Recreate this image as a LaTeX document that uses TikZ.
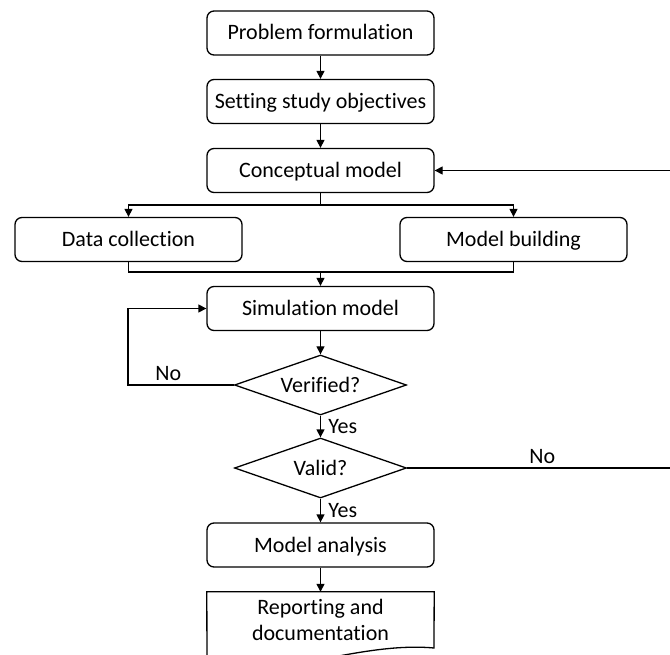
\documentclass[tikz,border=0pt]{standalone}
\usepackage{fontspec}
\setmainfont{Carlito}[Ligatures=CommonOff]
\usetikzlibrary{shapes.geometric, arrows.meta}

\begin{document}
\begin{tikzpicture}[x=1pt, y=-1pt,
    every node/.style={font=\fontsize{22}{26.5}\selectfont},
    stage/.style={draw, rounded corners=7pt, line width=1.3pt, minimum width=227pt, minimum height=44pt, inner sep=0pt, text height=16pt, text depth=2pt},
    check/.style={draw, diamond, aspect=2.87, line width=1.3pt, minimum width=172pt, minimum height=60pt, inner sep=0pt, text height=16pt, text depth=2pt},
    link/.style={line width=1.3pt},
    flow/.style={line width=1.3pt, -{Triangle[length=8pt,width=8pt]}}]
    \useasboundingbox (0,0) rectangle (670,655);
    \clip (0,0) rectangle (670,655);
    \fill[white] (0,0) rectangle (670,655);

    \node[stage] (pf) at (320.5,33) {Problem formulation};
    \node[stage] (so) at (320.5,101.5) {Setting study objectives};
    \node[stage] (cm) at (320.5,170.5) {Conceptual model};
    \node[stage] (dc) at (128.5,239.5) {Data collection};
    \node[stage] (mb) at (513.5,239.5) {Model building};
    \node[stage] (sm) at (320.5,308.5) {Simulation model};
    \node[check] (ver) at (320.5,385) {Verified?};
    \node[check] (val) at (320.5,468) {Valid?};
    \node[stage] (ma) at (320.5,545) {Model analysis};
    \node[align=center, minimum width=227pt, minimum height=56pt, inner sep=0pt] (rep) at (320.5,620) {Reporting and\\documentation};
    % document outline
    \draw[line width=1.3pt] (rep.north west) -- (rep.north east) -- (434,648)
        .. controls (380,643) and (320,662) .. (260,670) -- (207,672) -- cycle;

    \coordinate (split) at (320.5,205);
    \coordinate (join) at (320.5,272);
    \coordinate (loopL) at (128,385);
    \coordinate (loopR) at (672,468);

    \draw[flow] (pf) -- (so);
    \draw[flow] (so) -- (cm);
    \draw[link] (cm) -- (split);
    \draw[flow] (split) -| (dc.north);
    \draw[flow] (split) -| (mb.north);
    \draw[link] (dc.south) |- (join);
    \draw[link] (mb.south) |- (join);
    \draw[flow] (join) -- (sm);
    \draw[flow] (sm) -- (ver);
    \draw[flow] (ver.west) -- node[above, pos=0.62] (no1) {No} (loopL) |- (sm.west);
    \draw[flow] (ver) -- node[right, xshift=4pt] (yes1) {Yes} (val);
    \draw[flow] (val.east) -- node[above, pos=0.51] (no2) {No} (loopR) |- (cm.east);
    \draw[flow] (val) -- node[right, xshift=4pt] (yes2) {Yes} (ma);
    \draw[flow] (ma) -- (rep);
\end{tikzpicture}
\end{document}
